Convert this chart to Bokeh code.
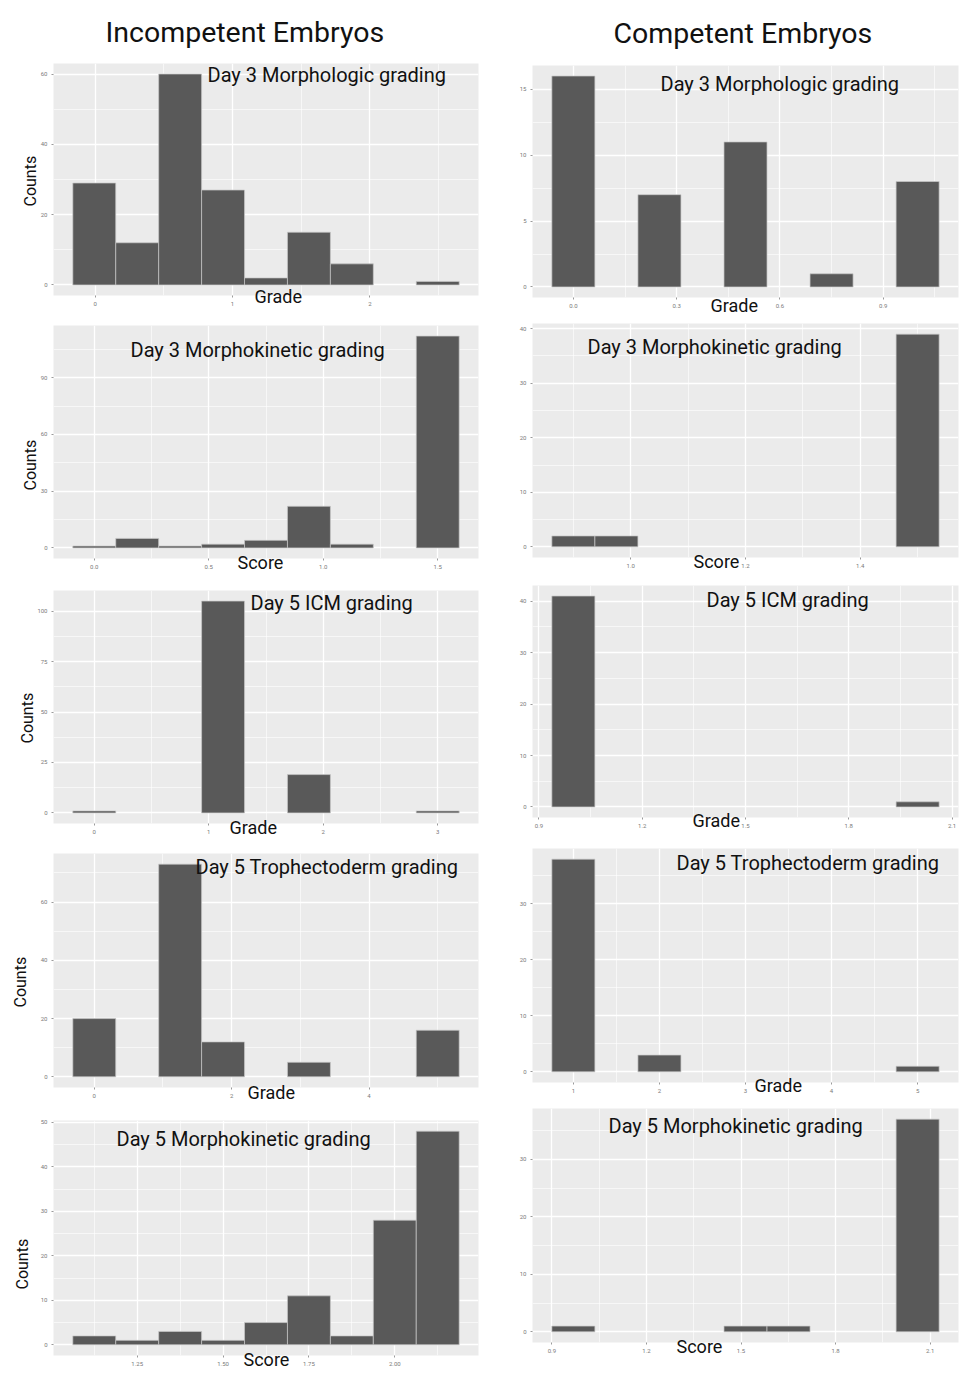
import math
from bokeh.plotting import figure
from bokeh.layouts import column, row
from bokeh.models import Label, Range1d, FixedTicker, ColumnDataSource, PrintfTickFormatter, Title
from bokeh.embed import file_html
from bokeh.resources import INLINE

FONT = "Roboto"

# ---------------- data (histogram bin edges and counts) ----------------
inc_d3_morph_edges = [-0.1625, 0.15, 0.4625, 0.775, 1.0875, 1.4, 1.7125, 2.025, 2.3375, 2.65]
inc_d3_morph_counts = [29, 12, 60, 27, 2, 15, 6, 0, 1]

com_d3_morph_edges = [-0.0625, 0.0625, 0.1875, 0.3125, 0.4375, 0.5625, 0.6875, 0.8125, 0.9375, 1.0625]
com_d3_morph_counts = [16, 0, 7, 0, 11, 0, 1, 0, 8]

inc_d3_mk_edges = [-0.09375, 0.09375, 0.28125, 0.46875, 0.65625, 0.84375, 1.03125, 1.21875, 1.40625, 1.59375]
inc_d3_mk_counts = [1, 5, 1, 2, 4, 22, 2, 0, 112]

com_d3_mk_edges = [0.8625, 0.9375, 1.0125, 1.0875, 1.1625, 1.2375, 1.3125, 1.3875, 1.4625, 1.5375]
com_d3_mk_counts = [2, 2, 0, 0, 0, 0, 0, 0, 39]

inc_d5_icm_edges = [-0.1875, 0.1875, 0.5625, 0.9375, 1.3125, 1.6875, 2.0625, 2.4375, 2.8125, 3.1875]
inc_d5_icm_counts = [1, 0, 0, 105, 0, 19, 0, 0, 1]

com_d5_icm_edges = [0.9375, 1.0625, 1.1875, 1.3125, 1.4375, 1.5625, 1.6875, 1.8125, 1.9375, 2.0625]
com_d5_icm_counts = [41, 0, 0, 0, 0, 0, 0, 0, 1]

inc_d5_te_edges = [-0.3125, 0.3125, 0.9375, 1.5625, 2.1875, 2.8125, 3.4375, 4.0625, 4.6875, 5.3125]
inc_d5_te_counts = [20, 0, 73, 12, 0, 5, 0, 0, 16]

com_d5_te_edges = [0.75, 1.25, 1.75, 2.25, 2.75, 3.25, 3.75, 4.25, 4.75, 5.25]
com_d5_te_counts = [38, 0, 3, 0, 0, 0, 0, 0, 1]

inc_d5_mk_edges = [1.0625, 1.1875, 1.3125, 1.4375, 1.5625, 1.6875, 1.8125, 1.9375, 2.0625, 2.1875]
inc_d5_mk_counts = [2, 1, 3, 1, 5, 11, 2, 28, 48]

com_d5_mk_edges = [0.9, 1.0365, 1.173, 1.3095, 1.446, 1.5825, 1.719, 1.8555, 1.992, 2.1285]
com_d5_mk_counts = [1, 0, 0, 0, 1, 1, 0, 0, 37]

# tick values
p1_xticks, p1_yticks = [0, 1, 2], [0, 20, 40, 60]
p2_xticks, p2_yticks = [0.0, 0.3, 0.6, 0.9], [0, 5, 10, 15]
p3_xticks, p3_yticks = [0.0, 0.5, 1.0, 1.5], [0, 30, 60, 90]
p4_xticks, p4_yticks = [1.0, 1.2, 1.4], [0, 10, 20, 30, 40]
p5_xticks, p5_yticks = [0, 1, 2, 3], [0, 25, 50, 75, 100]
p6_xticks, p6_yticks = [0.9, 1.2, 1.5, 1.8, 2.1], [0, 10, 20, 30, 40]
p7_xticks, p7_yticks = [0, 2, 4], [0, 20, 40, 60]
p8_xticks, p8_yticks = [1, 2, 3, 4, 5], [0, 10, 20, 30]
p9_xticks, p9_yticks = [1.25, 1.50, 1.75, 2.00], [0, 10, 20, 30, 40, 50]
p10_xticks, p10_yticks = [0.9, 1.2, 1.5, 1.8, 2.1], [0, 10, 20, 30]

col_titles = ["Incompetent Embryos", "Competent Embryos"]
panel_titles = ["Day 3 Morphologic grading", "Day 3 Morphologic grading",
                "Day 3 Morphokinetic grading", "Day 3 Morphokinetic grading",
                "Day 5 ICM grading", "Day 5 ICM grading",
                "Day 5 Trophectoderm grading", "Day 5 Trophectoderm grading",
                "Day 5 Morphokinetic grading", "Day 5 Morphokinetic grading"]
x_titles = ["Grade", "Grade", "Score", "Score", "Grade", "Grade", "Grade", "Grade", "Score", "Score"]
y_title = "Counts"

# ---------------- layout geometry (page pixels) ----------------
COL_X = [(0, 500), (500, 963)]
COL_LR = [(53, 478), (532, 958)]
# figure top, figure height, frame top, frame bottom  (per panel, row-major order)
VGEOM = [
    (0, 318, 63, 295), (0, 320, 65, 297),
    (318, 265, 325, 558), (320, 258, 323, 557),
    (583, 263, 590, 823), (578, 263, 585, 817),
    (846, 264, 853, 1087), (841, 260, 848, 1082),
    (1110, 263, 1120, 1355), (1101, 272, 1108, 1342),
]
# panel title (left x, mid y), x-label (mid x, mid y), y-label (mid x, mid y), x tick format
TGEOM = [
    ((207, 74), (277, 297), (35, 181), "%d"),
    ((660, 83), (733, 306), None, "%.1f"),
    ((130, 349), (260, 563), (35, 465), "%.1f"),
    ((587, 346), (716, 562), None, "%.1f"),
    ((250, 602), (252, 828), (32, 718), "%d"),
    ((706, 599), (715, 821), None, "%.1f"),
    ((195, 866), (270, 1093), (25, 982), "%d"),
    ((676, 862), (777, 1086), None, "%d"),
    ((116, 1138), (266, 1360), (27, 1264), "%.2f"),
    ((608, 1125), (699, 1347), None, "%.1f"),
]
header_pos = [105, 613]

TITLE_PX = 20
LAB_PX = 18
YLAB_PX = 16
HEAD_PX = 28.5
TICK_PX = 6
A_X = 14.0  # effective height of the x-axis panel (tick + labels)

data = [
    (inc_d3_morph_edges, inc_d3_morph_counts, p1_xticks, p1_yticks),
    (com_d3_morph_edges, com_d3_morph_counts, p2_xticks, p2_yticks),
    (inc_d3_mk_edges, inc_d3_mk_counts, p3_xticks, p3_yticks),
    (com_d3_mk_edges, com_d3_mk_counts, p4_xticks, p4_yticks),
    (inc_d5_icm_edges, inc_d5_icm_counts, p5_xticks, p5_yticks),
    (com_d5_icm_edges, com_d5_icm_counts, p6_xticks, p6_yticks),
    (inc_d5_te_edges, inc_d5_te_counts, p7_xticks, p7_yticks),
    (com_d5_te_edges, com_d5_te_counts, p8_xticks, p8_yticks),
    (inc_d5_mk_edges, inc_d5_mk_counts, p9_xticks, p9_yticks),
    (com_d5_mk_edges, com_d5_mk_counts, p10_xticks, p10_yticks),
]


def minor_between(ticks):
    step = ticks[1] - ticks[0]
    return [ticks[0] - step / 2] + [(a + b) / 2 for a, b in zip(ticks[:-1], ticks[1:])] + [ticks[-1] + step / 2]


def mk_title(text, size, offset, valign, standoff):
    kw = dict(text=text, text_font=FONT, text_font_size=f"{size}px", text_font_style="normal",
              text_color="#111111", align="left", offset=offset, vertical_align=valign)
    try:
        return Title(standoff=standoff, **kw)
    except Exception:
        return Title(standoff=max(standoff, 0), **kw)


def text_w(s, px):
    return 0.52 * px * len(s)


def build(i):
    edges, counts, xticks, yticks = data[i]
    tpos, xlpos, ylpos, fmt = TGEOM[i]
    c = i % 2
    fx0, fx1 = COL_X[c]
    L, R = COL_LR[c]
    ftop, fh, T, B = VGEOM[i]

    span = edges[-1] - edges[0]
    x0, x1 = edges[0] - 0.05 * span, edges[-1] + 0.05 * span
    ymax = max(counts)
    y0, y1 = -0.05 * ymax, 1.05 * ymax

    p = figure(width=fx1 - fx0, height=fh, title=None,
               x_range=Range1d(x0, x1), y_range=Range1d(y0, y1),
               output_backend="svg", toolbar_location=None,
               min_border_left=L - fx0, min_border_right=fx1 - R,
               min_border_top=T - ftop, min_border_bottom=ftop + fh - B)
    p.background_fill_color = "#EBEBEB"
    p.border_fill_color = "white"
    p.outline_line_color = None

    xt = FixedTicker(ticks=xticks, minor_ticks=minor_between(xticks))
    yt = FixedTicker(ticks=yticks, minor_ticks=minor_between(yticks))
    p.xaxis.ticker = xt
    p.yaxis.ticker = yt
    p.xgrid.ticker = xt
    p.ygrid.ticker = yt
    p.xaxis.formatter = PrintfTickFormatter(format=fmt)
    p.yaxis.formatter = PrintfTickFormatter(format="%d")
    for ax in (p.xaxis, p.yaxis):
        ax.axis_line_color = None
        ax.major_tick_line_color = "#9a9a9a"
        ax.major_tick_out = 2
        ax.major_tick_in = 0
        ax.minor_tick_line_color = None
        ax.major_label_text_font = FONT
        ax.major_label_text_font_size = f"{TICK_PX}px"
        ax.major_label_text_color = "#7a7a7a"
        ax.major_label_standoff = 2
    for g in (p.xgrid, p.ygrid):
        g.grid_line_color = "white"
        g.grid_line_width = 1.3
        g.minor_grid_line_color = "white"
        g.minor_grid_line_width = 0.6

    nz = [k for k, v in enumerate(counts) if v > 0]
    src = ColumnDataSource(dict(left=[edges[k] for k in nz], right=[edges[k + 1] for k in nz],
                                top=[counts[k] for k in nz]))
    p.quad(left="left", right="right", bottom=0, top="top", source=src,
           fill_color="#595959", line_color="#c8c8c8", line_width=0.7)

    def dx(px):
        return x0 + (px - L) / (R - L) * (x1 - x0)

    def dy(py):
        return y1 - (py - T) / (B - T) * (y1 - y0)

    # panel title inside the grey panel
    p.add_layout(Label(x=dx(tpos[0]), y=dy(tpos[1]), text=panel_titles[i],
                       text_font=FONT, text_font_size=f"{TITLE_PX}px", text_color="#111111",
                       text_align="left", text_baseline="middle"))

    # x-axis title (below, overlapping the tick labels)
    h = 1.17 * LAB_PX
    s = int(round(2 * (xlpos[1] - B - h / 2 - A_X)))
    off = int(round(xlpos[0] - text_w(x_titles[i], LAB_PX) / 2 - L))
    p.add_layout(mk_title(x_titles[i], LAB_PX, off, "top", s), "below")

    # y-axis title (left column only)
    if ylpos is not None:
        nch = max(len(str(t)) for t in yticks)
        axis_left = L - 4 - 0.56 * TICK_PX * nch
        hy = 1.17 * YLAB_PX
        sy = int(round(2 * (axis_left - ylpos[0]) - 2 - hy))
        offy = int(round(B - (ylpos[1] + text_w(y_title, YLAB_PX) / 2)))
        p.add_layout(mk_title(y_title, YLAB_PX, offy, "middle", sy), "left")

    # column header (top row only)
    if i < 2:
        hh = 1.17 * HEAD_PX
        sh = int(round(T - ftop - 2 - hh))
        p.add_layout(mk_title(col_titles[c], HEAD_PX, header_pos[c] - L, "middle", sh), "above")
    return p


figs = [build(i) for i in range(10)]
left_col = column(*figs[0::2])
right_col = column(*figs[1::2])
layout = row(left_col, right_col)

open("out.html", "w").write(file_html(layout, INLINE))
